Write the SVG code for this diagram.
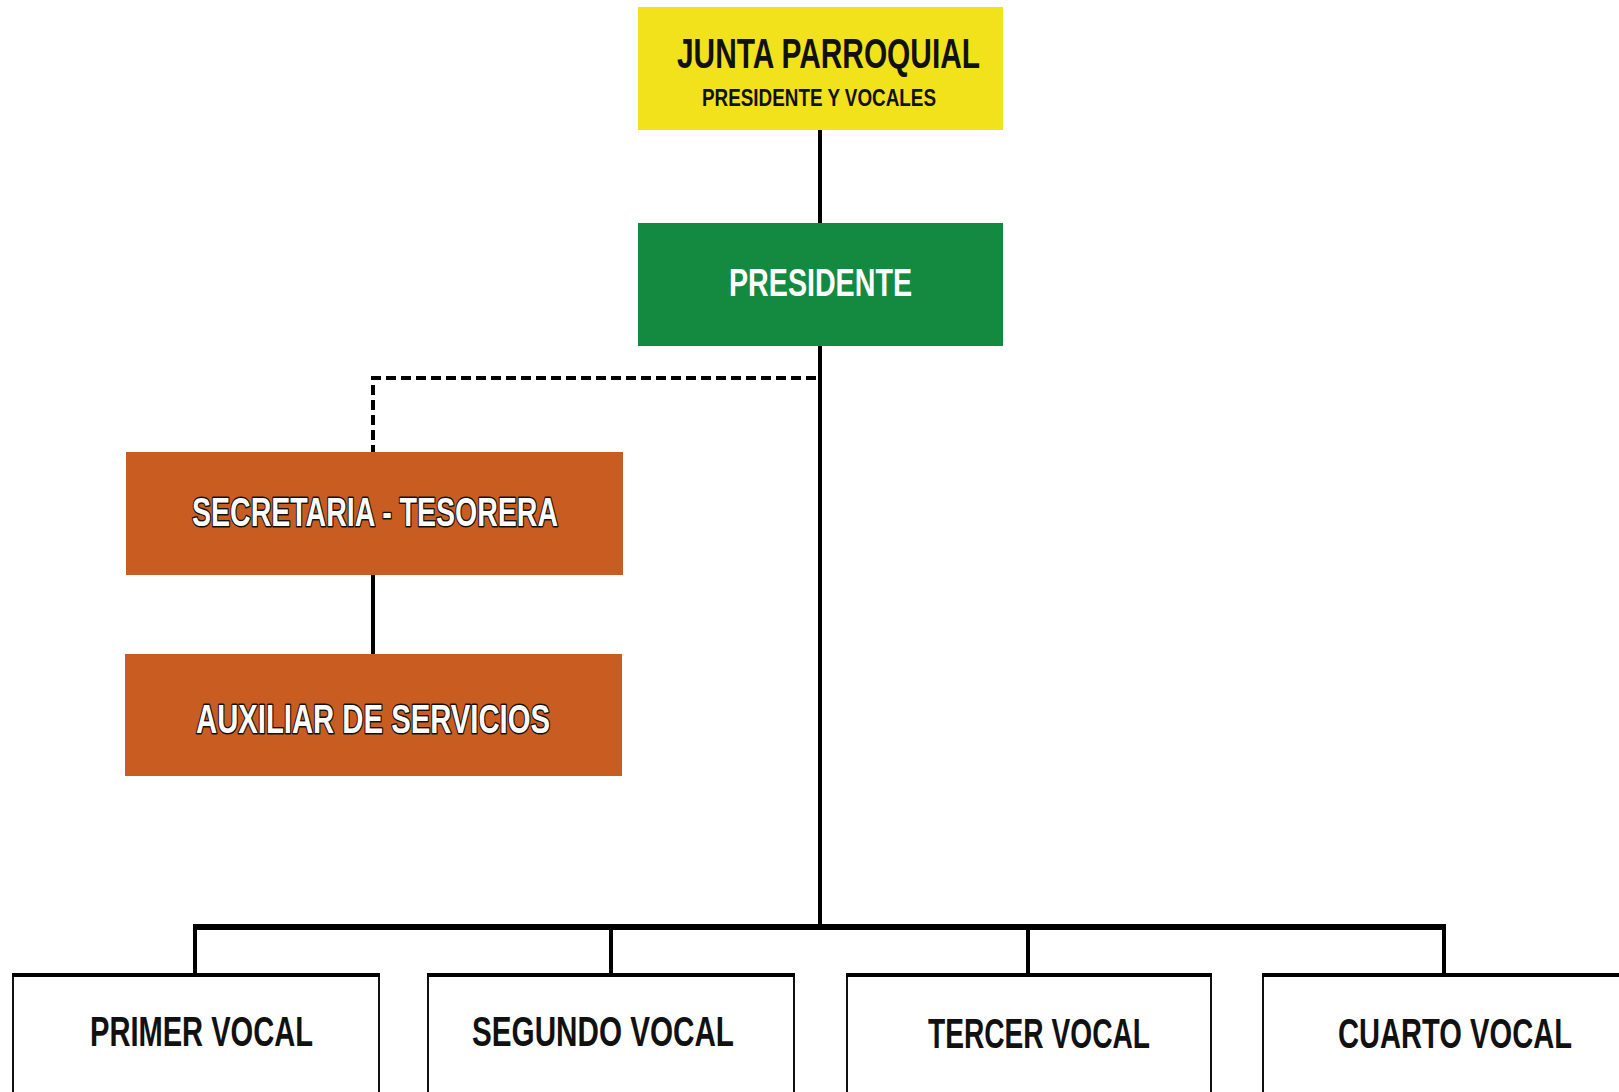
<svg xmlns="http://www.w3.org/2000/svg" width="1619" height="1092" viewBox="0 0 1619 1092">
<style>
.t{font-family:"Liberation Sans Narrow","Liberation Sans",Arial,sans-serif;font-weight:bold}
.dark{fill:#111}
.white{fill:#fff}
.outl{fill:#fff;stroke:#111;stroke-width:3;paint-order:stroke;stroke-linejoin:round}
.ln{stroke:#000;stroke-width:4;fill:none}
.vbox{fill:#fff;stroke:#111;stroke-width:2}
</style>
<rect width="1619" height="1092" fill="#fff"/>
<g id="connectors">
<line class="ln" x1="820" y1="130" x2="820" y2="223"/>
<line class="ln" x1="820" y1="346" x2="820" y2="928"/>
<path class="ln" d="M816 378 H373 V452" stroke-dasharray="10 5"/>
<line class="ln" x1="373" y1="575" x2="373" y2="654"/>
<line x1="193" y1="927" x2="1446" y2="927" stroke="#000" stroke-width="6"/>
<line class="ln" x1="195" y1="927" x2="195" y2="974"/>
<line class="ln" x1="611" y1="927" x2="611" y2="974"/>
<line class="ln" x1="1028" y1="927" x2="1028" y2="974"/>
<line class="ln" x1="1444" y1="927" x2="1444" y2="974"/>
</g>
<g id="junta">
<rect x="638" y="7" width="365" height="123" fill="#F1E21C"/>
<text class="t dark" x="677" y="68" font-size="42" textLength="303" lengthAdjust="spacingAndGlyphs">JUNTA PARROQUIAL</text>
<text class="t dark" x="702" y="106" font-size="24" textLength="234" lengthAdjust="spacingAndGlyphs">PRESIDENTE Y VOCALES</text>
</g>
<g id="presidente">
<rect x="638" y="223" width="365" height="123" fill="#138A40"/>
<text class="t white" x="729" y="296" font-size="39" textLength="183" lengthAdjust="spacingAndGlyphs">PRESIDENTE</text>
</g>
<g id="secretaria">
<rect x="126" y="452" width="497" height="123" fill="#C85C21"/>
<text class="t outl" x="192" y="526" font-size="41" textLength="366" lengthAdjust="spacingAndGlyphs">SECRETARIA - TESORERA</text>
</g>
<g id="auxiliar">
<rect x="125" y="654" width="497" height="122" fill="#C85C21"/>
<text class="t outl" x="196" y="733" font-size="41" textLength="354" lengthAdjust="spacingAndGlyphs">AUXILIAR DE SERVICIOS</text>
</g>
<g id="primer">
<rect class="vbox" x="13" y="974" width="366" height="125"/>
<line x1="12" y1="975" x2="380" y2="975" stroke="#000" stroke-width="4"/>
<text class="t dark" x="90" y="1046" font-size="43" textLength="223" lengthAdjust="spacingAndGlyphs">PRIMER VOCAL</text>
</g>
<g id="segundo">
<rect class="vbox" x="428" y="974" width="366" height="125"/>
<line x1="427" y1="975" x2="795" y2="975" stroke="#000" stroke-width="4"/>
<text class="t dark" x="472" y="1046" font-size="43" textLength="262" lengthAdjust="spacingAndGlyphs">SEGUNDO VOCAL</text>
</g>
<g id="tercer">
<rect class="vbox" x="847" y="974" width="364" height="125"/>
<line x1="846" y1="975" x2="1212" y2="975" stroke="#000" stroke-width="4"/>
<text class="t dark" x="928" y="1048" font-size="43" textLength="222" lengthAdjust="spacingAndGlyphs">TERCER VOCAL</text>
</g>
<g id="cuarto">
<path d="M1619 974 H1263 V1099" fill="#fff" stroke="#111" stroke-width="2"/>
<line x1="1262" y1="975" x2="1619" y2="975" stroke="#000" stroke-width="4"/>
<text class="t dark" x="1338" y="1048" font-size="43" textLength="234" lengthAdjust="spacingAndGlyphs">CUARTO VOCAL</text>
</g>
</svg>
